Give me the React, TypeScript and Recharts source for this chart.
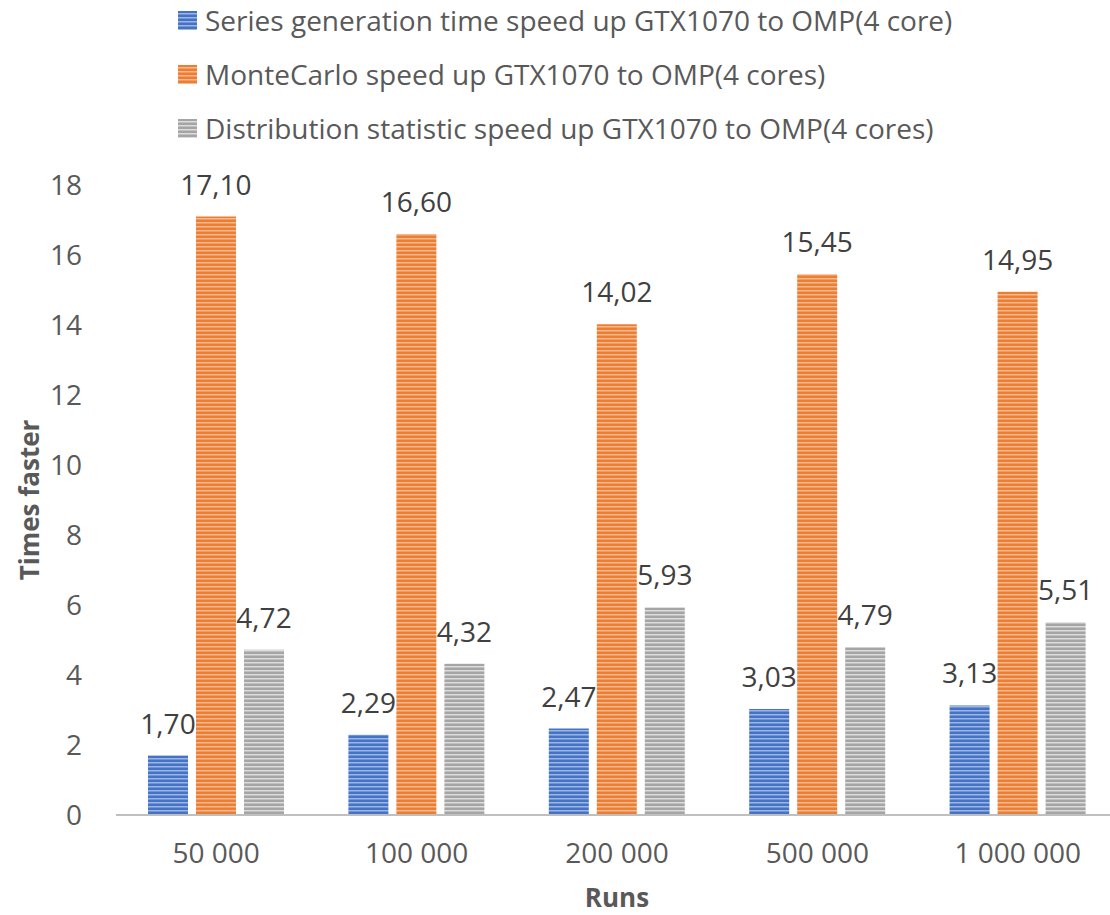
import { BarChart, Bar, XAxis, YAxis, Legend, LabelList } from "recharts";

const runs = ["50 000", "100 000", "200 000", "500 000", "1 000 000"];
const seriesGen = [1.7, 2.29, 2.47, 3.03, 3.13];
const monteCarlo = [17.1, 16.6, 14.02, 15.45, 14.95];
const distStat = [4.72, 4.32, 5.93, 4.79, 5.51];
const yTicks = [0, 2, 4, 6, 8, 10, 12, 14, 16, 18];

const seriesMeta = [
  { key: "gen", name: "Series generation time speed up GTX1070 to OMP(4 core)", base: "#4472C4", light: "#9db5e3" },
  { key: "mc", name: "MonteCarlo speed up GTX1070 to OMP(4 cores)", base: "#ED7D31", light: "#f6b890" },
  { key: "dist", name: "Distribution statistic speed up GTX1070 to OMP(4 cores)", base: "#A5A5A5", light: "#dcdcdc" },
];

const data = runs.map((r, i) => ({ run: r, gen: seriesGen[i], mc: monteCarlo[i], dist: distStat[i] }));

const FONT = "'Open Sans', 'Noto Sans', sans-serif";
const fmt = (v: any) => Number(v).toFixed(2).replace(".", ",");

function LegendBox() {
  return (
    <div style={{ fontFamily: FONT, fontSize: 28, color: "#595959", lineHeight: 1 }}>
      {seriesMeta.map((s) => (
        <div key={s.key} style={{ display: "flex", alignItems: "center", height: 54 }}>
          <svg width={19} height={19} style={{ marginRight: 8 }}>
            <rect width={19} height={19} fill={`url(#stripe-${s.key})`} />
          </svg>
          <span>{s.name}</span>
        </div>
      ))}
    </div>
  );
}

export default function App() {
  return (
    <div style={{ position: "absolute", left: 0, top: 0, width: 1110, height: 915, background: "#fff", overflow: "hidden" }}>
      <BarChart
        width={1110}
        height={915}
        data={data}
        margin={{ top: 23, right: -8, left: 0, bottom: 0 }}
        barGap={8}
        barSize={40}
      >
        <defs>
          {seriesMeta.map((s) => (
            <pattern key={s.key} id={`stripe-${s.key}`} width={4} height={4} patternUnits="userSpaceOnUse">
              <rect width={4} height={4} fill={s.base} />
              <rect y={2} width={4} height={1.5} fill={s.light} />
            </pattern>
          ))}
        </defs>
        <Legend
          verticalAlign="top"
          content={() => <LegendBox />}
          wrapperStyle={{ top: -7, left: 178, width: 920, height: 162 }}
        />
        <XAxis
          dataKey="run"
          height={100}
          axisLine={{ stroke: "#bfbfbf", strokeWidth: 2 }}
          tickLine={false}
          tick={{ fill: "#595959", fontSize: 28, fontFamily: FONT }}
          tickMargin={22}
          label={{ value: "Runs", position: "insideBottom", offset: 0, dy: -8, fill: "#595959", fontSize: 26, fontWeight: "bold", fontFamily: FONT }}
        />
        <YAxis
          width={116}
          domain={[0, 18]}
          ticks={yTicks}
          axisLine={false}
          tickLine={false}
          tick={{ fill: "#595959", fontSize: 28, fontFamily: FONT }}
          tickMargin={28}
          label={{ value: "Times faster", angle: -90, position: "insideLeft", offset: 30, fill: "#595959", fontSize: 26, fontWeight: "bold", fontFamily: FONT, style: { textAnchor: "middle" } }}
        />
        {seriesMeta.map((s) => (
          <Bar key={s.key} dataKey={s.key} name={s.name} fill={`url(#stripe-${s.key})`} isAnimationActive={false}>
            <LabelList dataKey={s.key} position="top" offset={22} formatter={fmt} fill="#404040" fontSize={28} fontFamily={FONT} />
          </Bar>
        ))}
      </BarChart>
    </div>
  );
}
